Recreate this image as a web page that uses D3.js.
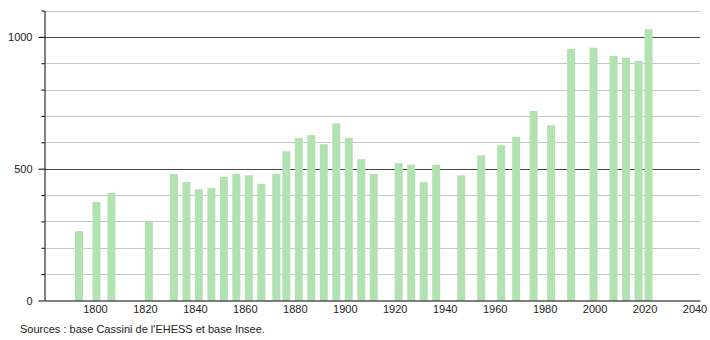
<!doctype html>
<html lang="fr">
    <head>
        <meta charset="utf-8">
        <title>Population</title>
        <script type="text/javascript" src="https://cdn.jsdelivr.net/npm/d3@7"></script>
        <style>
            body { margin: 0; background: #fff; }
            text { font-family: "Liberation Sans", Arial, sans-serif; }
            .tick text { font-size: 11px; fill: #222; }
        </style>
    </head>
    <body>
        <script type="text/javascript">
            var years = [1793, 1800, 1806, 1821, 1831, 1836, 1841, 1846, 1851, 1856,
                         1861, 1866, 1872, 1876, 1881, 1886, 1891, 1896, 1901, 1906,
                         1911, 1921, 1926, 1931, 1936, 1946, 1954, 1962, 1968, 1975,
                         1982, 1990, 1999, 2007, 2012, 2017, 2021];
            var population = [263, 374, 408, 300, 480, 449, 422, 427, 469, 480,
                              475, 443, 480, 566, 617, 627, 593, 672, 617, 536,
                              480, 521, 515, 450, 515, 475, 551, 589, 621, 719,
                              665, 954, 959, 928, 921, 909, 1030];
            var xTicks = [1800, 1820, 1840, 1860, 1880, 1900, 1920, 1940, 1960, 1980, 2000, 2020, 2040];
            var yMajor = [0, 500, 1000];
            var yMinor = [100, 200, 300, 400, 600, 700, 800, 900, 1100];
            var source = "Sources : base Cassini de l'EHESS et base Insee.";

            var svgW = 710, svgH = 340;
            var margin = {left: 44.5, right: 700, top: 10.5, bottom: 300.5};

            var xScale = d3.scaleLinear()
                           .domain([1779.8, 2042.2])
                           .range([margin.left, margin.right]);
            var yScale = d3.scaleLinear()
                           .domain([0, 1100])
                           .range([margin.bottom, margin.top]);

            var svg = d3.select("body")
                        .append("svg")
                        .attr("width", svgW)
                        .attr("height", svgH);

            // grid lines
            svg.selectAll("line.minor")
               .data(yMinor)
               .enter()
               .append("line")
               .attr("x1", margin.left).attr("x2", margin.right)
               .attr("y1", d => Math.round(yScale(d)) + 0.5)
               .attr("y2", d => Math.round(yScale(d)) + 0.5)
               .attr("stroke", "#c8c8c8");

            svg.selectAll("line.major")
               .data(yMajor.slice(1))
               .enter()
               .append("line")
               .attr("x1", margin.left).attr("x2", margin.right)
               .attr("y1", d => Math.round(yScale(d)) + 0.5)
               .attr("y2", d => Math.round(yScale(d)) + 0.5)
               .attr("stroke", "#444");

            // bars
            var barW = 8;
            svg.selectAll("rect.bar")
               .data(years)
               .enter()
               .append("rect")
               .attr("class", "bar")
               .attr("x", d => xScale(d) - 2.5)
               .attr("width", barW)
               .attr("y", (d, i) => yScale(population[i]))
               .attr("height", (d, i) => yScale(0) - yScale(population[i]))
               .attr("fill", "#b2e2b2");

            // x axis
            var xAxis = d3.axisBottom(xScale)
                          .tickValues(xTicks)
                          .tickSize(0)
                          .tickPadding(5)
                          .tickFormat(d3.format("d"));
            var gx = svg.append("g")
                        .attr("transform", "translate(0," + margin.bottom + ")")
                        .call(xAxis);
            gx.select(".domain").attr("stroke", "#000");

            // y axis: minor ticks, then major with labels
            var gyMinor = svg.append("g")
                             .attr("transform", "translate(" + margin.left + ",0)")
                             .call(d3.axisLeft(yScale).tickValues(yMinor).tickSize(3).tickFormat(""));
            gyMinor.select(".domain").remove();

            var gy = svg.append("g")
                        .attr("transform", "translate(" + margin.left + ",0)")
                        .call(d3.axisLeft(yScale)
                                .tickValues(yMajor)
                                .tickSize(6)
                                .tickPadding(6)
                                .tickSizeOuter(0)
                                .tickFormat(d3.format("d")));
            gy.select(".domain").attr("stroke", "#000");

            svg.append("text")
               .attr("x", 20)
               .attr("y", 333)
               .attr("font-size", "11px")
               .attr("fill", "#222")
               .text(source);
        </script>
    </body>
</html>
